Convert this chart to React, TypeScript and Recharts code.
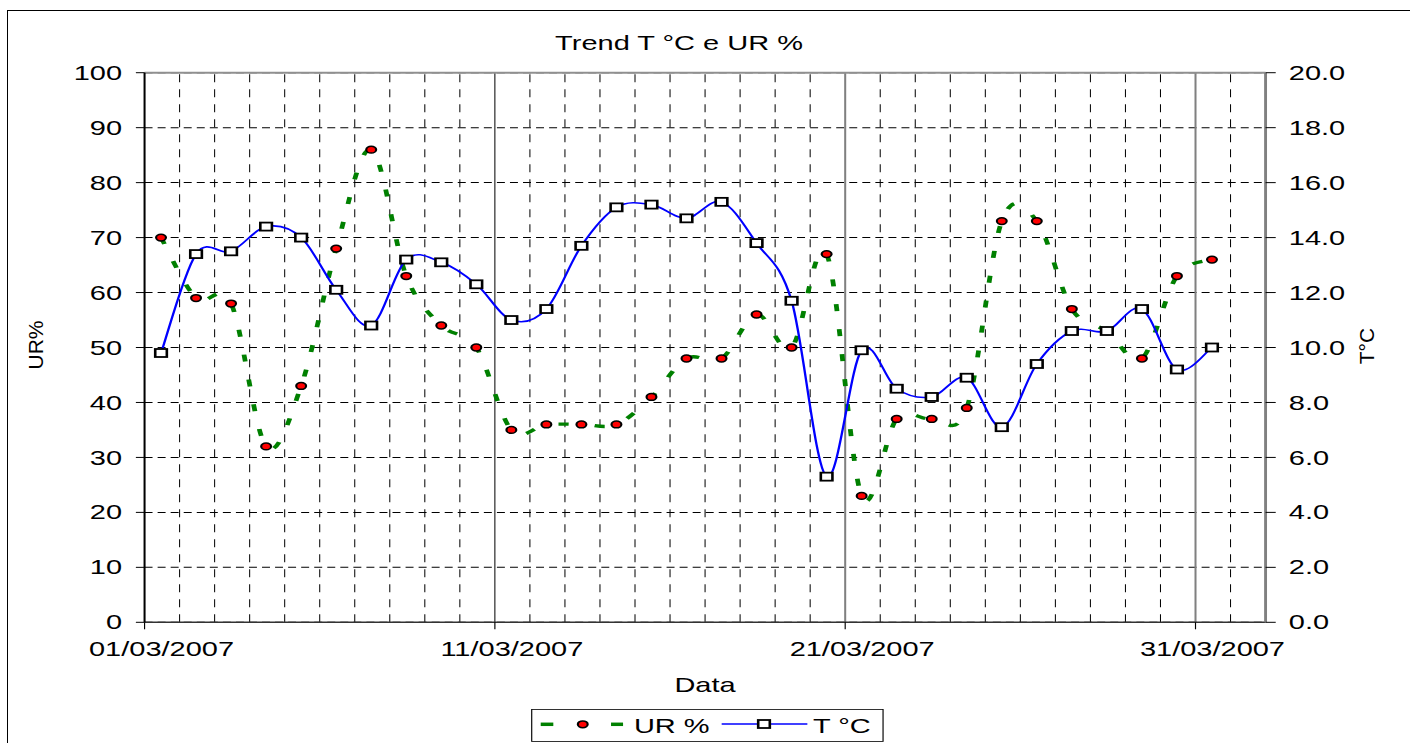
import React from 'react';
import { LineChart, Line, XAxis, YAxis, CartesianGrid, ReferenceLine } from 'recharts';

// daily readings, March 2007
const days = [1, 2, 3, 4, 5, 6, 7, 8, 9, 10, 11, 12, 13, 14, 15, 16, 17, 18, 19, 20, 21, 22, 23, 24, 25, 26, 27, 28, 29, 30, 31];
const urValues = [70, 59, 58, 32, 43, 68, 86, 63, 54, 50, 35, 36, 36, 36, 41, 48, 48, 56, 50, 67, 23, 37, 37, 39, 73, 73, 57, 53, 48, 63, 66];
const tempValues = [9.8, 13.4, 13.5, 14.4, 14.0, 12.1, 10.8, 13.2, 13.1, 12.3, 11.0, 11.4, 13.7, 15.1, 15.2, 14.7, 15.3, 13.8, 11.7, 5.3, 9.9, 8.5, 8.2, 8.9, 7.1, 9.4, 10.6, 10.6, 11.4, 9.2, 10.0];
const readingTime = 0.47; // fraction of the day when the reading was taken

const dateTicks = [0, 10, 20, 30];
const dateLabels = ['01/03/2007', '11/03/2007', '21/03/2007', '31/03/2007'];
const urTicks = [0, 10, 20, 30, 40, 50, 60, 70, 80, 90, 100];
const tempTicks = [0, 2, 4, 6, 8, 10, 12, 14, 16, 18, 20];
const gridDays = [1, 2, 3, 4, 5, 6, 7, 8, 9, 11, 12, 13, 14, 15, 16, 17, 18, 19, 21, 22, 23, 24, 25, 26, 27, 28, 29, 31];

const data = days.map((d, i) => ({ t: d - 1 + readingTime, ur: urValues[i], temp: tempValues[i] }));

// the original picture is stretched sideways, so the chart is drawn narrow and scaled
const S = 1.45;
const W = 1410 / S;
const H = 743;
const FONT = '"Liberation Sans", Arial, sans-serif';

// Excel-like smoothing (Catmull-Rom through every point)
const excelCurve = (context: any) => {
  let pts: number[][] = [];
  return {
    areaStart() {},
    areaEnd() {},
    lineStart() {
      pts = [];
    },
    point(x: number, y: number) {
      pts.push([+x, +y]);
    },
    lineEnd() {
      const n = pts.length;
      if (!n) return;
      context.moveTo(pts[0][0], pts[0][1]);
      for (let i = 0; i < n - 1; i++) {
        const p0 = pts[i - 1] || pts[i];
        const p1 = pts[i];
        const p2 = pts[i + 1];
        const p3 = pts[i + 2] || p2;
        context.bezierCurveTo(
          p1[0] + (p2[0] - p0[0]) / 6,
          p1[1] + (p2[1] - p0[1]) / 6,
          p2[0] - (p3[0] - p1[0]) / 6,
          p2[1] - (p3[1] - p1[1]) / 6,
          p2[0],
          p2[1]
        );
      }
    },
  };
};

const renderXTick = (props: any) => {
  const { x, y, payload } = props;
  const idx = dateTicks.indexOf(payload.value);
  return (
    <text x={x + 11.7} y={y} dy="0.71em" textAnchor="middle" fontSize={20} fill="#000" fontFamily={FONT}>
      {dateLabels[idx]}
    </text>
  );
};

const UrMarker = ({ cx, cy }: { cx: number; cy: number }) => (
  <circle cx={cx} cy={cy} r={3.4} fill="#ff0000" stroke="#000" strokeWidth={1.5} />
);

const TMarker = ({ cx, cy }: { cx: number; cy: number }) => (
  <rect x={cx - 4} y={cy - 4} width={8} height={8} fill="#fff" stroke="#000" strokeWidth={1.8} />
);

const renderUrDot = (props: any) => {
  const { cx, cy, index } = props;
  if (cx == null || cy == null) return <g key={`u-${index}`} />;
  return <UrMarker key={`u-${index}`} cx={cx} cy={cy} />;
};

const renderTDot = (props: any) => {
  const { cx, cy, index } = props;
  if (cx == null || cy == null) return <g key={`t-${index}`} />;
  return <TMarker key={`t-${index}`} cx={cx} cy={cy} />;
};

const tickStyle = { fontSize: 20, fill: '#000', fontFamily: FONT };

export default function App() {
  return (
    <div style={{ position: 'absolute', left: 0, top: 0, width: 1410, height: 743, overflow: 'hidden', background: '#fff' }}>
      <div style={{ position: 'absolute', left: 0, top: 0, width: W, height: H, transform: `scaleX(${S})`, transformOrigin: '0 0' }}>
        <LineChart width={W} height={H} data={data} margin={{ top: 72.7, right: 39.6, bottom: 90.7, left: 0 }} style={{ fontFamily: FONT }}>
          <CartesianGrid yAxisId="ur" vertical={false} stroke="#000" strokeDasharray="5.5 3.5" strokeWidth={1} />
          {gridDays.map((d) => (
            <ReferenceLine key={d} x={d} yAxisId="ur" stroke="#000" strokeWidth={0.7} strokeDasharray="8 7" />
          ))}
          <ReferenceLine x={10} yAxisId="ur" stroke="#000" strokeWidth={0.7} />
          <ReferenceLine x={20} yAxisId="ur" stroke="#808080" strokeWidth={1.4} />
          <ReferenceLine x={30} yAxisId="ur" stroke="#808080" strokeWidth={1.4} />
          <ReferenceLine y={100} yAxisId="ur" stroke="#909090" strokeWidth={2} />
          <XAxis
            dataKey="t"
            type="number"
            domain={[0, 32]}
            ticks={dateTicks}
            interval={0}
            tick={renderXTick}
            tickSize={7}
            tickMargin={13}
            height={30}
            axisLine={{ stroke: '#333', strokeWidth: 1.5 }}
            tickLine={{ stroke: '#000', strokeWidth: 0.8 }}
          />
          <YAxis
            yAxisId="ur"
            domain={[0, 100]}
            ticks={urTicks}
            interval={0}
            width={99.7}
            tick={tickStyle}
            tickSize={6}
            tickMargin={9.5}
            axisLine={{ stroke: '#000', strokeWidth: 1.4 }}
            tickLine={{ stroke: '#000', strokeWidth: 1 }}
          />
          <YAxis
            yAxisId="t"
            orientation="right"
            domain={[0, 20]}
            ticks={tempTicks}
            interval={0}
            width={60}
            tick={tickStyle}
            tickFormatter={(v: number) => v.toFixed(1)}
            tickSize={7}
            tickMargin={9}
            axisLine={{ stroke: '#808080', strokeWidth: 2 }}
            tickLine={{ stroke: '#000', strokeWidth: 1 }}
          />
          <Line
            yAxisId="ur"
            dataKey="ur"
            name="UR %"
            type={excelCurve as any}
            stroke="#008000"
            strokeWidth={3.3}
            strokeDasharray="7 18"
            dot={renderUrDot}
            activeDot={false}
            isAnimationActive={false}
          />
          <Line
            yAxisId="t"
            dataKey="temp"
            name="T °C"
            type={excelCurve as any}
            stroke="#0000ff"
            strokeWidth={1.6}
            dot={renderTDot}
            activeDot={false}
            isAnimationActive={false}
          />
        </LineChart>
        <svg width={W} height={H} style={{ position: 'absolute', left: 0, top: 0, pointerEvents: 'none' }} fontFamily={FONT}>
          <text x={468.3} y={49.7} textAnchor="middle" fontSize={20} fill="#000">Trend T °C e UR %</text>
          <text x={486.2} y={692} textAnchor="middle" fontSize={20} fill="#000">Data</text>
          <rect x={366.7} y={709.5} width={242.3} height={32} fill="#fff" stroke="#000" strokeWidth={0.8} />
          <line x1={372.9} x2={381.6} y1={724.3} y2={724.3} stroke="#008000" strokeWidth={3.5} />
          <line x1={421.4} x2={429.7} y1={724.3} y2={724.3} stroke="#008000" strokeWidth={3.5} />
          <UrMarker cx={401.9} cy={724.3} />
          <text x={437.2} y={732.7} fontSize={20} fill="#000">UR %</text>
          <line x1={497.7} x2={556.8} y1={724} y2={724} stroke="#0000ff" strokeWidth={1.6} />
          <TMarker cx={526.9} cy={724} />
          <text x={560.7} y={732.7} fontSize={20} fill="#000">T °C</text>
        </svg>
      </div>
      <svg width={1410} height={743} style={{ position: 'absolute', left: 0, top: 0, pointerEvents: 'none' }} fontFamily={FONT}>
        <text transform="translate(43,345) rotate(-90)" textAnchor="middle" fontSize={21} fill="#000">UR%</text>
        <text transform="translate(1373.5,346) rotate(-90)" textAnchor="middle" fontSize={21} fill="#000">T°C</text>
      </svg>
      <div style={{ position: 'absolute', left: 7, top: 10, width: 1440, height: 800, border: '1px solid #000', boxSizing: 'border-box' }} />
    </div>
  );
}
